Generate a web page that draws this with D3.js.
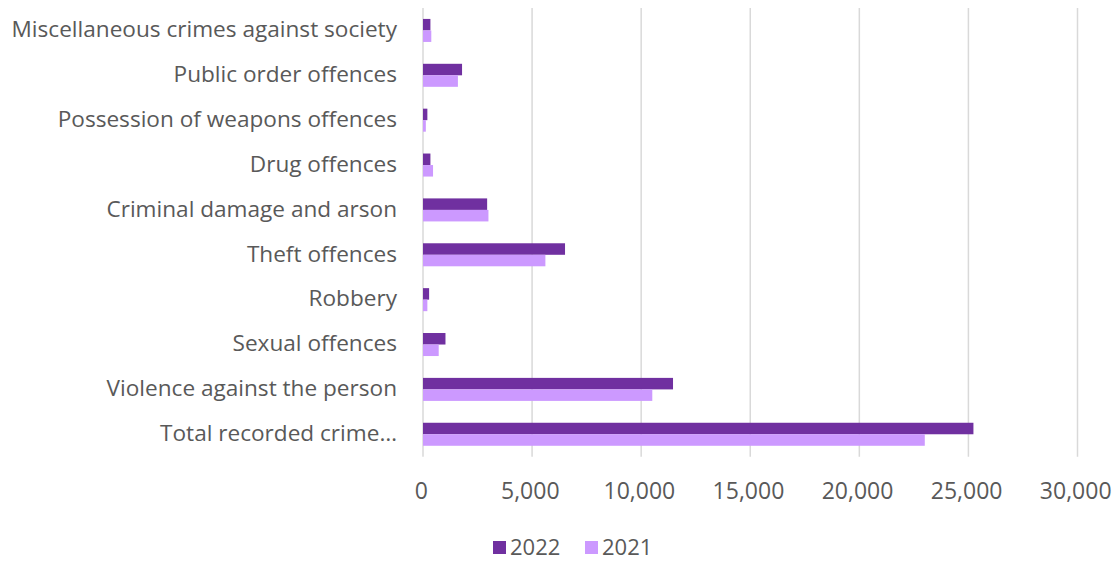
<!DOCTYPE html>
<html>
<head>
<meta charset="utf-8">
<script src="https://cdn.jsdelivr.net/npm/d3@7"></script>
<style>
  html, body { margin: 0; padding: 0; background: #fff; }
  svg { display: block; }
  text { font-family: "Open Sans", "Liberation Sans", sans-serif; fill: #595959; }
</style>
</head>
<body>
<svg id="chart" width="1120" height="563"></svg>
<script>
// Recorded crime by offence group, 2022 vs 2021
const categories = [
  "Miscellaneous crimes against society",
  "Public order offences",
  "Possession of weapons offences",
  "Drug offences",
  "Criminal damage and arson",
  "Theft offences",
  "Robbery",
  "Sexual offences",
  "Violence against the person",
  "Total recorded crime…"
];
const series = ["2022", "2021"];
const values2022 = [340, 1790, 200, 340, 2940, 6510, 280, 1030, 11460, 25230];
const values2021 = [380, 1600, 130, 460, 3000, 5610, 200, 720, 10510, 23000];
const xTicks = [0, 5000, 10000, 15000, 20000, 25000, 30000];
const colors = ["#7030A0", "#CC99FF"];

const svg = d3.select("#chart");
const plot = { left: 423, right: 1077.5, top: 8, bottom: 456.7 };
const font = "'Open Sans', 'Liberation Sans', sans-serif";

const x = d3.scaleLinear().domain([0, 30000]).range([plot.left, plot.right]);
const y = d3.scaleBand().domain(categories).range([plot.top, plot.bottom])
  .paddingInner(0.487).paddingOuter(0.2435);
const ySub = d3.scaleBand().domain(series).range([0, y.bandwidth()]);

// vertical gridlines
svg.append("g").selectAll("line").data(xTicks).join("line")
  .attr("x1", d => x(d)).attr("x2", d => x(d))
  .attr("y1", plot.top).attr("y2", plot.bottom)
  .attr("stroke", "#d9d9d9").attr("stroke-width", 1.5);

// x-axis tick labels
const xAxis = d3.axisBottom(x).tickValues(xTicks).tickFormat(d3.format(",")).tickSize(0).tickPadding(0);
const gx = svg.append("g").attr("transform", `translate(0,${plot.bottom})`).call(xAxis);
gx.select(".domain").remove();
gx.selectAll("text").attr("dy", null).attr("y", 42).attr("dx", "-0.1em")
  .style("font-size", "23px").style("fill", "#595959").style("font-family", font);

// category labels
const yAxis = d3.axisLeft(y).tickSize(0).tickPadding(0);
const gy = svg.append("g").attr("transform", `translate(397,0)`).call(yAxis);
gy.select(".domain").remove();
gy.selectAll("text").attr("dy", "0.3em")
  .style("font-size", "22.6px").style("fill", "#595959").style("font-family", font);

// bars
const rows = categories.map((c, i) => ({ c, vals: [values2022[i], values2021[i]] }));
const grp = svg.append("g").selectAll("g").data(rows).join("g")
  .attr("transform", d => `translate(0,${y(d.c)})`);
grp.selectAll("rect").data(d => d.vals.map((v, j) => ({ s: series[j], v, j }))).join("rect")
  .attr("x", x(0))
  .attr("y", d => ySub(d.s))
  .attr("width", d => x(d.v) - x(0))
  .attr("height", ySub.bandwidth())
  .attr("fill", d => colors[d.j]);

// legend
const legend = svg.append("g");
const legendItems = [
  { label: "2022", color: colors[0], x: 493 },
  { label: "2021", color: colors[1], x: 585 }
];
legendItems.forEach(it => {
  legend.append("rect").attr("x", it.x).attr("y", 541).attr("width", 13).attr("height", 13).attr("fill", it.color);
  legend.append("text").attr("x", it.x + 17).attr("y", 555)
    .style("font-size", "22px").text(it.label);
});
</script>
</body>
</html>
